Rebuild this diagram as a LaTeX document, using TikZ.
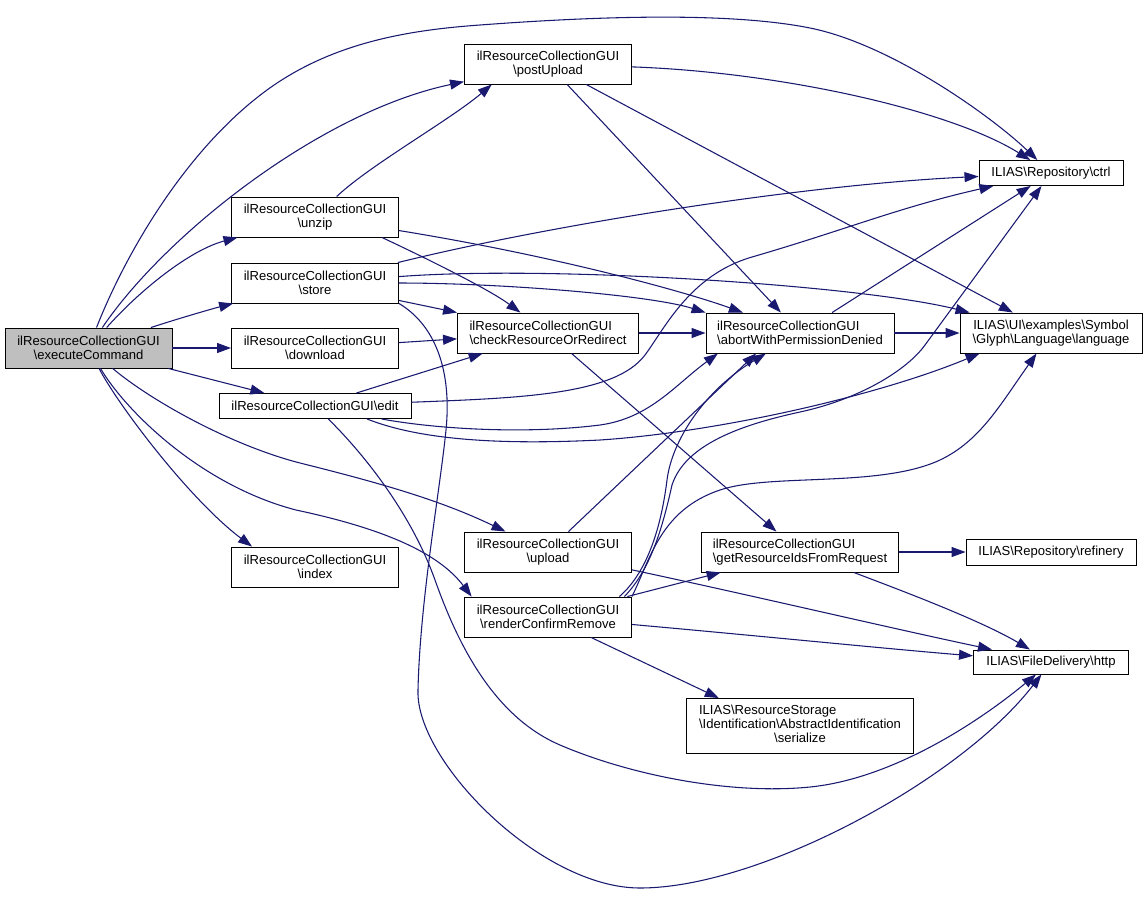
\documentclass[tikz,border=0pt]{standalone}
\usepackage{fontspec}
\setmainfont{Liberation Sans}
\usetikzlibrary{arrows.meta}
\definecolor{edgeblue}{RGB}{25,25,112}
\definecolor{boxgray}{RGB}{191,191,191}
\newcommand{\fnsep}{\textbackslash}
\tikzset{
  fn/.style={draw=black, fill=white, line width=0.7pt, align=center, inner sep=0pt, minimum height=30pt, font=\fontsize{9.8}{10.5}\selectfont},
  call/.style={draw=edgeblue, line width=0.8pt, -{Triangle[length=10.5pt,width=7.5pt]}}
}
\begin{document}
\begin{tikzpicture}[x=0.75pt,y=-0.75pt]
\useasboundingbox (0,0) rectangle (1148,897);
\node[fn, fill=boxgray, minimum width=125.25pt] (exec) at (88.5,348) {ilResourceCollectionGUI\\\fnsep executeCommand};
\node[fn, minimum width=125.25pt] (postUpload) at (548,64) {ilResourceCollectionGUI\\\fnsep postUpload};
\node[fn, minimum width=125.25pt] (unzip) at (315,217) {ilResourceCollectionGUI\\\fnsep unzip};
\node[fn, minimum width=125.25pt] (store) at (315,283) {ilResourceCollectionGUI\\\fnsep store};
\node[fn, minimum width=125.25pt] (download) at (315,348) {ilResourceCollectionGUI\\\fnsep download};
\node[fn, minimum width=144pt, minimum height=18.75pt] (edit) at (315,406) {ilResourceCollectionGUI\fnsep edit};
\node[fn, minimum width=125.25pt] (index) at (315,567) {ilResourceCollectionGUI\\\fnsep index};
\node[fn, align=left, minimum width=135.75pt] (checkRes) at (548,333) {ilResourceCollectionGUI\\\fnsep checkResourceOrRedirect};
\node[fn, minimum width=125.25pt] (upload) at (548,552) {ilResourceCollectionGUI\\\fnsep upload};
\node[fn, minimum width=125.25pt] (renderCR) at (548,617) {ilResourceCollectionGUI\\\fnsep renderConfirmRemove};
\node[fn, align=left, minimum width=141pt] (abort) at (800,333) {ilResourceCollectionGUI\\\fnsep abortWithPermissionDenied};
\node[fn, align=left, minimum width=147.75pt] (getRes) at (800,552) {ilResourceCollectionGUI\\\fnsep getResourceIdsFromRequest};
\node[fn, minimum width=170.25pt, minimum height=41.25pt] (serialize) at (800,726) {\begin{tabular}{@{}l@{}}ILIAS\fnsep ResourceStorage\\\fnsep Identification\fnsep AbstractIdentification\\\multicolumn{1}{@{}c@{}}{\fnsep serialize}\end{tabular}};
\node[fn, minimum width=108pt, minimum height=18.75pt] (ctrl) at (1051,173) {ILIAS\fnsep Repository\fnsep ctrl};
\node[fn, minimum width=136.5pt] (language) at (1051,333) {ILIAS\fnsep UI\fnsep examples\fnsep Symbol\\\fnsep Glyph\fnsep Language\fnsep language};
\node[fn, minimum width=127.5pt, minimum height=19.5pt] (refinery) at (1051,552) {ILIAS\fnsep Repository\fnsep refinery};
\node[fn, minimum width=116.25pt, minimum height=18pt] (http) at (1051,662) {ILIAS\fnsep FileDelivery\fnsep http};
\draw[call] (exec) .. controls (125,255) and (185,150) .. (267,90) .. controls (333,42) and (410,30) .. (480,25) .. controls (600,16) and (730,12) .. (810,28) .. controls (890,44) and (990,115) .. (ctrl);
\draw[call] (exec) .. controls (165,235) and (320,112) .. (postUpload);
\draw[call] (exec) .. controls (140,290) and (190,250) .. (unzip);
\draw[call] (exec) .. controls (180,318) and (215,308) .. (store);
\draw[call] (exec) -- (download);
\draw[call] (exec) -- (edit);
\draw[call] (exec) .. controls (150,400) and (230,445) .. (300,463) .. controls (380,483) and (440,500) .. (upload);
\draw[call] (exec) .. controls (125,410) and (200,485) .. (296,510) .. controls (390,530) and (440,555) .. (renderCR.165);
\draw[call] (exec) .. controls (118,405) and (190,500) .. (index.162);
\draw[call] (unzip) .. controls (370,165) and (450,120) .. (postUpload.-160);
\draw[call] (unzip.-17) .. controls (430,260) and (490,290) .. (checkRes);
\draw[call] (unzip) .. controls (550,255) and (680,290) .. (abort);
\draw[call] (store) .. controls (550,225) and (800,185) .. (ctrl);
\draw[call] (store) .. controls (550,265) and (860,285) .. (language);
\draw[call] (store) .. controls (500,283) and (650,295) .. (abort.north west);
\draw[call] (store) -- (checkRes.north west);
\draw[call] (store.south east) .. controls (435,325) and (452,370) .. (446,430) .. controls (440,490) and (420,600) .. (418,690) .. controls (415,760) and (540,888) .. (640,888) .. controls (760,888) and (960,780) .. (http);
\draw[call] (download) -- (checkRes);
\draw[call] (edit) -- (checkRes);
\draw[call] (edit) .. controls (520,398) and (615,395) .. (645,355) .. controls (665,328) and (690,275) .. (752,257) .. controls (845,230) and (900,207) .. (ctrl);
\draw[call] (edit.-11) .. controls (430,428) and (520,435) .. (600,425) .. controls (650,418) and (675,385) .. (abort.-166);
\draw[call] (edit.-14) .. controls (420,440) and (500,445) .. (600,440) .. controls (720,432) and (880,395) .. (language.-164);
\draw[call] (edit) .. controls (360,450) and (410,510) .. (435,580) .. controls (455,636) and (490,715) .. (560,745) .. controls (630,775) and (730,795) .. (810,787) .. controls (890,779) and (975,725) .. (http);
\draw[call] (checkRes) -- (abort);
\draw[call] (checkRes) -- (getRes);
\draw[call] (postUpload) .. controls (780,72) and (950,110) .. (ctrl);
\draw[call] (postUpload) -- (abort);
\draw[call] (postUpload) -- (language);
\draw[call] (upload.45) -- (abort.-155);
\draw[call] (upload) .. controls (750,595) and (890,628) .. (http);
\draw[call] (renderCR) -- (getRes);
\draw[call] (renderCR.16) .. controls (650,570) and (662,520) .. (667,480) .. controls (672,440) and (705,390) .. (abort);
\draw[call] (renderCR.15) .. controls (650,570) and (662,530) .. (672,485) .. controls (685,445) and (740,425) .. (800,412) .. controls (860,399) and (907,370) .. (925,345) -- (ctrl);
\draw[call] (renderCR.north east) .. controls (650,560) and (660,510) .. (720,490) .. controls (770,473) and (880,488) .. (940,460) .. controls (980,441) and (1000,405) .. (language);
\draw[call] (renderCR) .. controls (750,635) and (900,650) .. (http);
\draw[call] (renderCR) -- (serialize.161);
\draw[call] (abort) -- (ctrl);
\draw[call] (abort) -- (language);
\draw[call] (getRes) -- (refinery);
\draw[call] (getRes) .. controls (900,590) and (980,620) .. (http);
\end{tikzpicture}
\end{document}
